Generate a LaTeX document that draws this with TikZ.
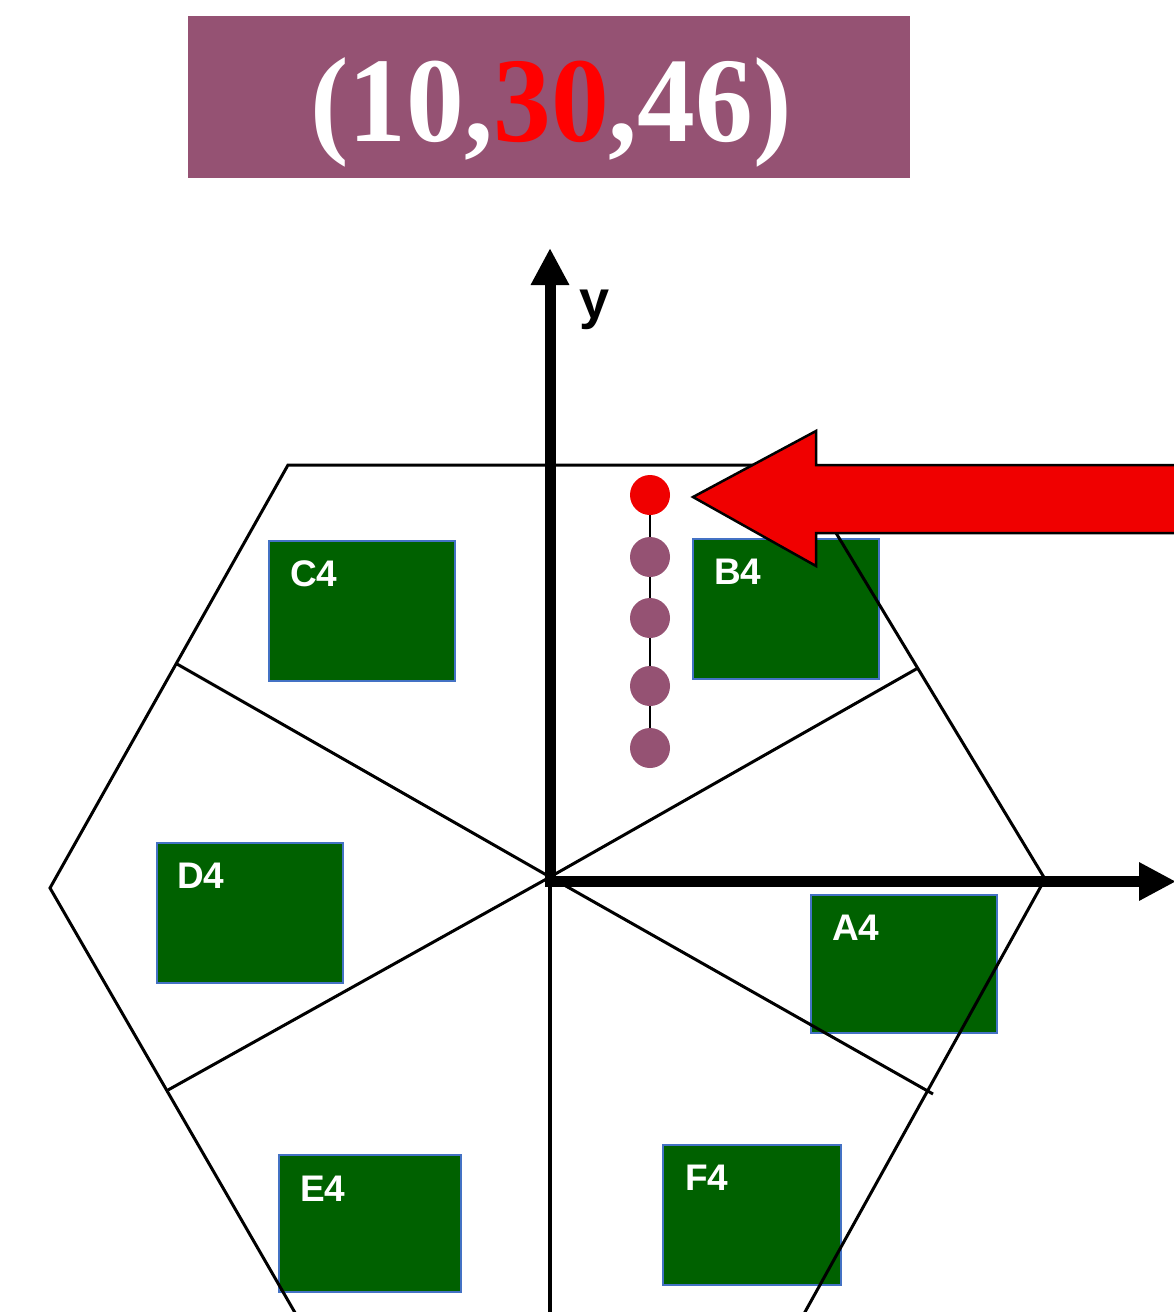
\documentclass[tikz,border=0pt]{standalone}
\usepackage{fontspec}
\setmainfont{Liberation Serif}
\setsansfont{Liberation Sans}
\usetikzlibrary{arrows.meta}
\definecolor{mauve}{HTML}{955273}
\definecolor{dgreen}{HTML}{006100}
\definecolor{rectblue}{HTML}{4472C4}
\definecolor{arrred}{HTML}{F00000}
\definecolor{dotred}{HTML}{F00000}
\begin{document}
\begin{tikzpicture}[x=1pt,y=-1pt,
  hexline/.style={line width=3pt, black},
  axisline/.style={line width=11pt, -{Triangle[length=37pt,width=36pt]}},
  zone/.style={draw=rectblue, line width=2pt, fill=dgreen, inner sep=0pt, outer sep=0pt},
  zlabel/.style={font=\fontsize{37}{40}\selectfont\sffamily\bfseries, text=white, anchor=base west, inner sep=0pt},
  dotnode/.style={circle, minimum size=40pt, inner sep=0pt, fill=mauve},
]
\clip (0,0) rectangle (1174,1312);
\fill[white] (0,0) rectangle (1174,1312);

% title
\node[fill=mauve, minimum width=722pt, minimum height=162pt, inner sep=0pt] (title) at (549,97) {};
\node[anchor=base, inner sep=0pt, text=white, font=\fontsize{121}{121}\selectfont\bfseries] (titletext) at (551,141)
  {\scalebox{0.955}[1]{(10,\textcolor{red}{30},46)}};

% zones
\node[zone, minimum width=186pt, minimum height=138pt] (A4) at (904,964) {};
\node[zone, minimum width=186pt, minimum height=140pt] (B4) at (786,609) {};
\node[zone, minimum width=186pt, minimum height=140pt] (C4) at (362,611) {};
\node[zone, minimum width=186pt, minimum height=140pt] (D4) at (250,913) {};
\node[zone, minimum width=182pt, minimum height=137pt] (E4) at (370,1223.5) {};
\node[zone, minimum width=178pt, minimum height=140pt] (F4) at (752,1215) {};
\node[zlabel] (A4l) at (832,940) {A4};
\node[zlabel] (B4l) at (714,584) {B4};
\node[zlabel] (C4l) at (290,586) {C4};
\node[zlabel] (D4l) at (177,888) {D4};
\node[zlabel] (E4l) at (300,1201) {E4};
\node[zlabel] (F4l) at (685,1190) {F4};

% hexagon
\coordinate (O) at (550,877);
\coordinate (TL) at (288,465);
\coordinate (TR) at (795,465);
\coordinate (R) at (1045,879);
\coordinate (L) at (50,888);
\coordinate (BL) at (305,1330);
\coordinate (BR) at (795,1330);
\draw[hexline, line join=miter] (BL) -- (L) -- (TL) -- (TR) -- (R) -- (BR);
\coordinate (s1) at (177,664);
\coordinate (s2) at (918,668);
\coordinate (s3) at (168,1090);
\coordinate (s4) at (933,1094);
\coordinate (s5) at (550,1330);
\draw[hexline] (O) -- (s1);
\draw[hexline] (O) -- (s2);
\draw[hexline] (O) -- (s3);
\draw[hexline] (O) -- (s4);
\draw[line width=3.5pt] (O) -- (s5);

% dots
\node[dotnode, fill=dotred] (d1) at (650,495) {};
\node[dotnode] (d2) at (650,557) {};
\node[dotnode] (d3) at (650,618) {};
\node[dotnode] (d4) at (650,686) {};
\node[dotnode] (d5) at (650,748) {};
\draw[line width=2pt] (d1) -- (d2);
\draw[line width=2pt] (d2) -- (d3);
\draw[line width=2pt] (d3) -- (d4);
\draw[line width=2pt] (d4) -- (d5);

% axes
\coordinate (ytip) at (550,248);
\coordinate (xtip) at (1176,881.5);
\coordinate (ybase) at (550,882);
\coordinate (xbase) at (544.5,881.5);
\draw[axisline] (ybase) -- (ytip);
\draw[axisline] (xbase) -- (xtip);
\node[anchor=base west, inner sep=0pt, font=\fontsize{54}{54}\selectfont\sffamily\bfseries] (ylab) at (579,318) {y};

% red arrow
\coordinate (atip) at (693,497);
\draw[fill=arrred, draw=black, line width=2.5pt, line join=miter]
  (atip) -- (816,431) -- (816,465) -- (1185,465) -- (1185,533) -- (816,533) -- (816,566) -- cycle;
\end{tikzpicture}
\end{document}
